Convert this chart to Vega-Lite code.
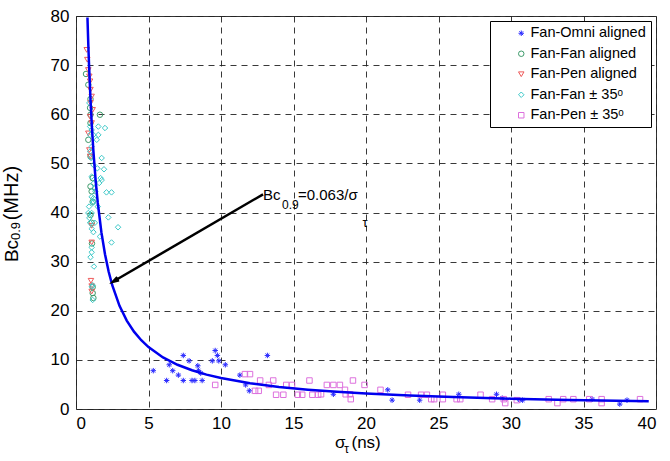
{
  "$schema": "https://vega.github.io/schema/vega-lite/v6.json",
  "width": 580,
  "height": 393,
  "autosize": "none",
  "padding": {"left": 76, "top": 16, "right": 14, "bottom": 52},
  "background": "white",
  "config": {
    "view": {"stroke": "#333", "strokeWidth": 1},
    "font": "Liberation Sans",
    "axis": {
      "grid": true, "gridDash": [6, 5], "gridColor": "#222", "gridOpacity": 0.9, "gridWidth": 1,
      "domain": false, "ticks": false,
      "labelFont": "Liberation Sans", "labelFontSize": 17, "labelColor": "#000",
      "title": null
    },
    "legend": {
      "labelFont": "Liberation Sans", "labelFontSize": 14.5, "labelColor": "#000",
      "strokeColor": "#000", "fillColor": "#fff", "padding": 5,
      "symbolOffset": 19, "labelOffset": 2, "rowPadding": 5.5, "symbolSize": 30, "symbolStrokeWidth": 1
    }
  },
  "layer": [
    {
      "data": {"values": [
        {"s":5.33,"b":7.8,"g":"Fan-Omni aligned"},{"s":6.25,"b":5.8,"g":"Fan-Omni aligned"},{"s":6.43,"b":9.0,"g":"Fan-Omni aligned"},{"s":6.67,"b":7.8,"g":"Fan-Omni aligned"},{"s":7.06,"b":6.9,"g":"Fan-Omni aligned"},{"s":7.4,"b":10.9,"g":"Fan-Omni aligned"},{"s":7.4,"b":5.8,"g":"Fan-Omni aligned"},{"s":7.8,"b":9.8,"g":"Fan-Omni aligned"},{"s":8.0,"b":5.8,"g":"Fan-Omni aligned"},{"s":8.2,"b":5.8,"g":"Fan-Omni aligned"},{"s":8.4,"b":8.8,"g":"Fan-Omni aligned"},{"s":8.45,"b":7.8,"g":"Fan-Omni aligned"},{"s":8.6,"b":7.3,"g":"Fan-Omni aligned"},{"s":8.7,"b":5.8,"g":"Fan-Omni aligned"},{"s":9.4,"b":9.8,"g":"Fan-Omni aligned"},{"s":9.6,"b":11.9,"g":"Fan-Omni aligned"},{"s":9.75,"b":10.9,"g":"Fan-Omni aligned"},{"s":9.85,"b":9.8,"g":"Fan-Omni aligned"},{"s":10.3,"b":9.0,"g":"Fan-Omni aligned"},{"s":11.3,"b":6.9,"g":"Fan-Omni aligned"},{"s":11.7,"b":4.9,"g":"Fan-Omni aligned"},{"s":11.95,"b":3.7,"g":"Fan-Omni aligned"},{"s":13.2,"b":10.9,"g":"Fan-Omni aligned"},{"s":17.75,"b":3.0,"g":"Fan-Omni aligned"},{"s":21.5,"b":3.9,"g":"Fan-Omni aligned"},{"s":21.8,"b":1.8,"g":"Fan-Omni aligned"},{"s":23.7,"b":1.8,"g":"Fan-Omni aligned"},{"s":26.4,"b":3.0,"g":"Fan-Omni aligned"},{"s":29.0,"b":3.0,"g":"Fan-Omni aligned"},{"s":29.4,"b":2.2,"g":"Fan-Omni aligned"},{"s":30.6,"b":1.8,"g":"Fan-Omni aligned"},{"s":30.8,"b":1.8,"g":"Fan-Omni aligned"},{"s":35.6,"b":2.0,"g":"Fan-Omni aligned"},{"s":37.5,"b":1.0,"g":"Fan-Omni aligned"},{"s":38.0,"b":1.8,"g":"Fan-Omni aligned"},

        {"s":0.69,"b":68.2,"g":"Fan-Fan aligned"},{"s":0.85,"b":66.0,"g":"Fan-Fan aligned"},{"s":1.0,"b":63.1,"g":"Fan-Fan aligned"},{"s":0.97,"b":61.3,"g":"Fan-Fan aligned"},{"s":1.0,"b":59.9,"g":"Fan-Fan aligned"},{"s":1.65,"b":59.9,"g":"Fan-Fan aligned"},{"s":1.0,"b":58.2,"g":"Fan-Fan aligned"},{"s":0.85,"b":54.8,"g":"Fan-Fan aligned"},{"s":1.0,"b":51.4,"g":"Fan-Fan aligned"},{"s":1.15,"b":47.0,"g":"Fan-Fan aligned"},{"s":1.0,"b":45.3,"g":"Fan-Fan aligned"},{"s":1.08,"b":44.3,"g":"Fan-Fan aligned"},{"s":1.15,"b":42.2,"g":"Fan-Fan aligned"},{"s":1.0,"b":39.5,"g":"Fan-Fan aligned"},{"s":1.08,"b":37.9,"g":"Fan-Fan aligned"},{"s":1.1,"b":33.7,"g":"Fan-Fan aligned"},{"s":1.15,"b":24.8,"g":"Fan-Fan aligned"},{"s":1.15,"b":23.6,"g":"Fan-Fan aligned"},{"s":1.2,"b":22.6,"g":"Fan-Fan aligned"},

        {"s":0.74,"b":73.1,"g":"Fan-Pen aligned"},{"s":0.78,"b":71.1,"g":"Fan-Pen aligned"},{"s":0.85,"b":69.0,"g":"Fan-Pen aligned"},{"s":0.92,"b":67.7,"g":"Fan-Pen aligned"},{"s":0.97,"b":66.7,"g":"Fan-Pen aligned"},{"s":1.0,"b":65.0,"g":"Fan-Pen aligned"},{"s":1.08,"b":63.6,"g":"Fan-Pen aligned"},{"s":1.0,"b":62.3,"g":"Fan-Pen aligned"},{"s":1.15,"b":60.9,"g":"Fan-Pen aligned"},{"s":0.97,"b":59.5,"g":"Fan-Pen aligned"},{"s":1.08,"b":58.2,"g":"Fan-Pen aligned"},{"s":0.85,"b":56.1,"g":"Fan-Pen aligned"},{"s":0.92,"b":52.7,"g":"Fan-Pen aligned"},{"s":0.97,"b":51.4,"g":"Fan-Pen aligned"},{"s":1.08,"b":37.3,"g":"Fan-Pen aligned"},{"s":1.08,"b":33.9,"g":"Fan-Pen aligned"},{"s":1.03,"b":26.1,"g":"Fan-Pen aligned"},{"s":1.08,"b":25.0,"g":"Fan-Pen aligned"},{"s":1.08,"b":23.9,"g":"Fan-Pen aligned"},

        {"s":0.92,"b":62.3,"g":"Fan-Fan ± 35ᵒ"},{"s":0.97,"b":57.5,"g":"Fan-Fan ± 35ᵒ"},{"s":1.08,"b":56.8,"g":"Fan-Fan ± 35ᵒ"},{"s":1.54,"b":57.5,"g":"Fan-Fan ± 35ᵒ"},{"s":2.0,"b":57.2,"g":"Fan-Fan ± 35ᵒ"},{"s":0.97,"b":55.8,"g":"Fan-Fan ± 35ᵒ"},{"s":1.2,"b":55.8,"g":"Fan-Fan ± 35ᵒ"},{"s":1.54,"b":55.8,"g":"Fan-Fan ± 35ᵒ"},{"s":1.43,"b":54.8,"g":"Fan-Fan ± 35ᵒ"},{"s":1.08,"b":53.4,"g":"Fan-Fan ± 35ᵒ"},{"s":0.97,"b":52.4,"g":"Fan-Fan ± 35ᵒ"},{"s":1.03,"b":51.1,"g":"Fan-Fan ± 35ᵒ"},{"s":1.77,"b":51.1,"g":"Fan-Fan ± 35ᵒ"},{"s":1.2,"b":49.7,"g":"Fan-Fan ± 35ᵒ"},{"s":1.47,"b":49.0,"g":"Fan-Fan ± 35ᵒ"},{"s":1.93,"b":48.8,"g":"Fan-Fan ± 35ᵒ"},{"s":1.7,"b":47.0,"g":"Fan-Fan ± 35ᵒ"},{"s":1.08,"b":47.3,"g":"Fan-Fan ± 35ᵒ"},{"s":1.2,"b":45.9,"g":"Fan-Fan ± 35ᵒ"},{"s":1.6,"b":46.0,"g":"Fan-Fan ± 35ᵒ"},{"s":1.77,"b":46.6,"g":"Fan-Fan ± 35ᵒ"},{"s":1.25,"b":44.9,"g":"Fan-Fan ± 35ᵒ"},{"s":1.33,"b":44.3,"g":"Fan-Fan ± 35ᵒ"},{"s":1.08,"b":43.2,"g":"Fan-Fan ± 35ᵒ"},{"s":2.1,"b":44.1,"g":"Fan-Fan ± 35ᵒ"},{"s":2.45,"b":44.1,"g":"Fan-Fan ± 35ᵒ"},{"s":1.2,"b":42.9,"g":"Fan-Fan ± 35ᵒ"},{"s":1.15,"b":41.9,"g":"Fan-Fan ± 35ᵒ"},{"s":1.5,"b":41.2,"g":"Fan-Fan ± 35ᵒ"},{"s":1.2,"b":42.2,"g":"Fan-Fan ± 35ᵒ"},{"s":0.9,"b":41.2,"g":"Fan-Fan ± 35ᵒ"},{"s":0.85,"b":39.9,"g":"Fan-Fan ± 35ᵒ"},{"s":1.08,"b":39.9,"g":"Fan-Fan ± 35ᵒ"},{"s":0.92,"b":38.9,"g":"Fan-Fan ± 35ᵒ"},{"s":2.23,"b":39.0,"g":"Fan-Fan ± 35ᵒ"},{"s":2.9,"b":37.0,"g":"Fan-Fan ± 35ᵒ"},{"s":0.97,"b":37.9,"g":"Fan-Fan ± 35ᵒ"},{"s":1.3,"b":37.9,"g":"Fan-Fan ± 35ᵒ"},{"s":1.08,"b":36.7,"g":"Fan-Fan ± 35ᵒ"},{"s":1.2,"b":36.0,"g":"Fan-Fan ± 35ᵒ"},{"s":1.65,"b":35.1,"g":"Fan-Fan ± 35ᵒ"},{"s":2.45,"b":33.9,"g":"Fan-Fan ± 35ᵒ"},{"s":1.08,"b":32.9,"g":"Fan-Fan ± 35ᵒ"},{"s":1.08,"b":31.9,"g":"Fan-Fan ± 35ᵒ"},{"s":1.0,"b":30.9,"g":"Fan-Fan ± 35ᵒ"},{"s":1.24,"b":29.0,"g":"Fan-Fan ± 35ᵒ"},{"s":1.15,"b":25.2,"g":"Fan-Fan ± 35ᵒ"},{"s":1.1,"b":24.9,"g":"Fan-Fan ± 35ᵒ"},{"s":1.15,"b":22.2,"g":"Fan-Fan ± 35ᵒ"},

        {"s":9.6,"b":4.9,"g":"Fan-Pen ± 35ᵒ"},{"s":11.65,"b":7.1,"g":"Fan-Pen ± 35ᵒ"},{"s":12.0,"b":7.1,"g":"Fan-Pen ± 35ᵒ"},{"s":12.35,"b":3.7,"g":"Fan-Pen ± 35ᵒ"},{"s":12.6,"b":3.7,"g":"Fan-Pen ± 35ᵒ"},{"s":12.7,"b":5.8,"g":"Fan-Pen ± 35ᵒ"},{"s":13.3,"b":4.9,"g":"Fan-Pen ± 35ᵒ"},{"s":13.6,"b":5.8,"g":"Fan-Pen ± 35ᵒ"},{"s":13.8,"b":2.9,"g":"Fan-Pen ± 35ᵒ"},{"s":14.3,"b":2.9,"g":"Fan-Pen ± 35ᵒ"},{"s":14.5,"b":4.9,"g":"Fan-Pen ± 35ᵒ"},{"s":14.9,"b":4.9,"g":"Fan-Pen ± 35ᵒ"},{"s":15.3,"b":2.9,"g":"Fan-Pen ± 35ᵒ"},{"s":15.6,"b":2.9,"g":"Fan-Pen ± 35ᵒ"},{"s":16.1,"b":5.8,"g":"Fan-Pen ± 35ᵒ"},{"s":16.3,"b":2.9,"g":"Fan-Pen ± 35ᵒ"},{"s":16.7,"b":2.9,"g":"Fan-Pen ± 35ᵒ"},{"s":16.9,"b":3.0,"g":"Fan-Pen ± 35ᵒ"},{"s":17.3,"b":4.9,"g":"Fan-Pen ± 35ᵒ"},{"s":17.75,"b":4.9,"g":"Fan-Pen ± 35ᵒ"},{"s":18.2,"b":4.9,"g":"Fan-Pen ± 35ᵒ"},{"s":18.55,"b":3.9,"g":"Fan-Pen ± 35ᵒ"},{"s":18.6,"b":3.0,"g":"Fan-Pen ± 35ᵒ"},{"s":18.9,"b":3.0,"g":"Fan-Pen ± 35ᵒ"},{"s":18.95,"b":2.0,"g":"Fan-Pen ± 35ᵒ"},{"s":19.1,"b":5.8,"g":"Fan-Pen ± 35ᵒ"},{"s":19.9,"b":4.9,"g":"Fan-Pen ± 35ᵒ"},{"s":21.0,"b":3.9,"g":"Fan-Pen ± 35ᵒ"},{"s":22.9,"b":2.9,"g":"Fan-Pen ± 35ᵒ"},{"s":23.8,"b":2.9,"g":"Fan-Pen ± 35ᵒ"},{"s":24.2,"b":2.9,"g":"Fan-Pen ± 35ᵒ"},{"s":24.5,"b":2.0,"g":"Fan-Pen ± 35ᵒ"},{"s":24.7,"b":2.0,"g":"Fan-Pen ± 35ᵒ"},{"s":25.3,"b":2.9,"g":"Fan-Pen ± 35ᵒ"},{"s":25.3,"b":2.0,"g":"Fan-Pen ± 35ᵒ"},{"s":26.25,"b":2.0,"g":"Fan-Pen ± 35ᵒ"},{"s":26.5,"b":2.0,"g":"Fan-Pen ± 35ᵒ"},{"s":27.9,"b":2.9,"g":"Fan-Pen ± 35ᵒ"},{"s":28.7,"b":2.0,"g":"Fan-Pen ± 35ᵒ"},{"s":29.5,"b":2.0,"g":"Fan-Pen ± 35ᵒ"},{"s":29.6,"b":1.2,"g":"Fan-Pen ± 35ᵒ"},{"s":30.4,"b":1.8,"g":"Fan-Pen ± 35ᵒ"},{"s":32.6,"b":2.0,"g":"Fan-Pen ± 35ᵒ"},{"s":33.2,"b":1.2,"g":"Fan-Pen ± 35ᵒ"},{"s":33.6,"b":2.0,"g":"Fan-Pen ± 35ᵒ"},{"s":34.3,"b":2.0,"g":"Fan-Pen ± 35ᵒ"},{"s":35.4,"b":2.0,"g":"Fan-Pen ± 35ᵒ"},{"s":36.25,"b":2.0,"g":"Fan-Pen ± 35ᵒ"},{"s":36.25,"b":1.2,"g":"Fan-Pen ± 35ᵒ"},{"s":38.9,"b":2.0,"g":"Fan-Pen ± 35ᵒ"}
      ]},
      "mark": {"type": "point", "filled": false, "size": 30, "strokeWidth": 1, "opacity": 1},
      "encoding": {
        "x": {"field": "s", "type": "quantitative", "scale": {"domain": [0, 40], "nice": false}, "axis": {"values": [0,5,10,15,20,25,30,35,40], "labelPadding": 6}},
        "y": {"field": "b", "type": "quantitative", "scale": {"domain": [0, 80], "nice": false}, "axis": {"values": [0,10,20,30,40,50,60,70,80], "labelPadding": 7}},
        "color": {"field": "g", "type": "nominal",
          "scale": {"domain": ["Fan-Omni aligned","Fan-Fan aligned","Fan-Pen aligned","Fan-Fan ± 35ᵒ","Fan-Pen ± 35ᵒ"],
                    "range": ["#2b2bff","#3d9a6a","#ee5a5a","#3cc8c8","#dd70dd"]},
          "legend": {"title": null, "orient": "top-right", "offset": 5}},
        "shape": {"field": "g", "type": "nominal",
          "scale": {"domain": ["Fan-Omni aligned","Fan-Fan aligned","Fan-Pen aligned","Fan-Fan ± 35ᵒ","Fan-Pen ± 35ᵒ"],
                    "range": ["M-1,0L1,0M0,-1L0,1M-0.7,-0.7L0.7,0.7M-0.7,0.7L0.7,-0.7","circle","triangle-down","diamond","square"]},
          "legend": {"title": null, "orient": "top-right", "offset": 5}}
      }
    },
    {
      "data": {"values": [
        {"s":0.79,"b":79.7},{"s":0.85,"b":74.1},{"s":0.9,"b":70.0},{"s":1.0,"b":63.0},{"s":1.1,"b":57.3},{"s":1.2,"b":52.5},{"s":1.35,"b":46.7},{"s":1.5,"b":42.0},{"s":1.75,"b":36.0},{"s":2.0,"b":31.5},{"s":2.25,"b":28.0},{"s":2.5,"b":25.2},{"s":3.0,"b":21.0},{"s":3.5,"b":18.0},{"s":4.0,"b":15.75},{"s":4.5,"b":14.0},{"s":5.0,"b":12.6},{"s":6.0,"b":10.5},{"s":7.0,"b":9.0},{"s":8.0,"b":7.88},{"s":9.0,"b":7.0},{"s":10.0,"b":6.3},{"s":12.0,"b":5.25},{"s":14.0,"b":4.5},{"s":16.0,"b":3.94},{"s":18.0,"b":3.5},{"s":20.0,"b":3.15},{"s":23.0,"b":2.74},{"s":26.0,"b":2.42},{"s":30.0,"b":2.1},{"s":34.0,"b":1.85},{"s":39.5,"b":1.6}
      ]},
      "mark": {"type": "line", "color": "#0000ee", "strokeWidth": 2.5, "clip": true},
      "encoding": {
        "x": {"field": "s", "type": "quantitative"},
        "y": {"field": "b", "type": "quantitative"},
        "order": {"field": "s", "type": "quantitative"}
      }
    },
    {
      "data": {"values": [{"s":12.9,"b":43.7,"s2":2.6,"b2":26.0}]},
      "mark": {"type": "rule", "color": "#000", "strokeWidth": 2.5},
      "encoding": {
        "x": {"field": "s", "type": "quantitative"},
        "y": {"field": "b", "type": "quantitative"},
        "x2": {"field": "s2"},
        "y2": {"field": "b2"}
      }
    },
    {
      "data": {"values": [{"s":2.55,"b":25.9}]},
      "mark": {"type": "point", "shape": "M-0.45,1.5L0,0L0.45,1.5", "filled": false, "stroke": "#000", "strokeWidth": 2.5, "size": 64, "angle": 240, "opacity": 1},
      "encoding": {
        "x": {"field": "s", "type": "quantitative"},
        "y": {"field": "b", "type": "quantitative"}
      }
    },
    {
      "data": {"values": [{"s":12.9,"b":42.6,"t":"Bc"},{"s":15.31,"b":42.6,"t":"=0.063/σ"}]},
      "mark": {"type": "text", "font": "Liberation Sans", "fontSize": 15, "align": "left", "baseline": "alphabetic", "color": "#000"},
      "encoding": {"x": {"field": "s", "type": "quantitative"}, "y": {"field": "b", "type": "quantitative"}, "text": {"field": "t"}}
    },
    {
      "data": {"values": [{"s":14.21,"b":40.7,"t":"0.9"}]},
      "mark": {"type": "text", "font": "Liberation Sans", "fontSize": 12, "align": "left", "baseline": "alphabetic", "color": "#000"},
      "encoding": {"x": {"field": "s", "type": "quantitative"}, "y": {"field": "b", "type": "quantitative"}, "text": {"field": "t"}}
    },
    {
      "data": {"values": [{"s":19.75,"b":37.0,"t":"τ"}]},
      "mark": {"type": "text", "font": "Liberation Sans", "fontSize": 13, "align": "left", "baseline": "alphabetic", "color": "#000"},
      "encoding": {"x": {"field": "s", "type": "quantitative"}, "y": {"field": "b", "type": "quantitative"}, "text": {"field": "t"}}
    },
    {
      "data": {"values": [{"s":17.86,"b":-7.9,"t":"σ"},{"s":19.0,"b":-7.9,"t":"(ns)"}]},
      "mark": {"type": "text", "font": "Liberation Sans", "fontSize": 17, "align": "left", "baseline": "alphabetic", "color": "#000"},
      "encoding": {"x": {"field": "s", "type": "quantitative"}, "y": {"field": "b", "type": "quantitative"}, "text": {"field": "t"}}
    },
    {
      "data": {"values": [{"s":18.5,"b":-9.0,"t":"τ"}]},
      "mark": {"type": "text", "font": "Liberation Sans", "fontSize": 12, "align": "left", "baseline": "alphabetic", "color": "#000"},
      "encoding": {"x": {"field": "s", "type": "quantitative"}, "y": {"field": "b", "type": "quantitative"}, "text": {"field": "t"}}
    },
    {
      "data": {"values": [{"s":-4.03,"b":29.9,"t":"Bc"}]},
      "mark": {"type": "text", "font": "Liberation Sans", "fontSize": 19, "align": "left", "baseline": "alphabetic", "angle": 270, "color": "#000"},
      "encoding": {"x": {"field": "s", "type": "quantitative"}, "y": {"field": "b", "type": "quantitative"}, "text": {"field": "t"}}
    },
    {
      "data": {"values": [{"s":-4.03,"b":38.4,"t":"(MHz)"}]},
      "mark": {"type": "text", "font": "Liberation Sans", "fontSize": 20, "align": "left", "baseline": "alphabetic", "angle": 270, "color": "#000"},
      "encoding": {"x": {"field": "s", "type": "quantitative"}, "y": {"field": "b", "type": "quantitative"}, "text": {"field": "t"}}
    },
    {
      "data": {"values": [{"s":-3.84,"b":34.4,"t":"0.9"}]},
      "mark": {"type": "text", "font": "Liberation Sans", "fontSize": 13, "align": "left", "baseline": "alphabetic", "angle": 270, "color": "#000"},
      "encoding": {"x": {"field": "s", "type": "quantitative"}, "y": {"field": "b", "type": "quantitative"}, "text": {"field": "t"}}
    }
  ]
}
